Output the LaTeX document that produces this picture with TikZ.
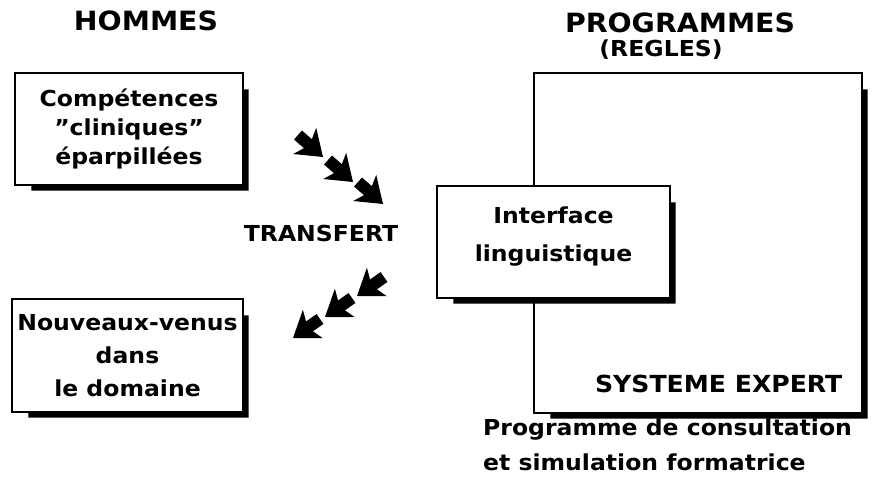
\documentclass[tikz,border=0pt]{standalone}
\usepackage{fontspec}
\setmainfont{DejaVu Sans}[FakeStretch=1.07]
\usetikzlibrary{arrows.meta, positioning}
\newcommand{\bodyfont}[1]{\fontsize{22}{#1}\selectfont\bfseries}

\begin{document}
\begin{tikzpicture}[
    x=1pt, y=-1pt,
    box/.style={rectangle, draw, line width=1.2pt, fill=white, align=center, inner sep=0pt, font=\bodyfont{29}},
    title/.style={inner sep=0pt, font=\fontsize{26.5}{30}\selectfont\bfseries},
    label/.style={inner sep=0pt, align=left, font=\bodyfont{35}},
    fat/.style={line width=12pt, -{Stealth[length=24pt, width=34pt, inset=6pt]}}
]
    \useasboundingbox (0,0) rectangle (875,491);

    \node[title] (hommes) at (146,21) {HOMMES};
    \node[title] (prog) at (680,23) {PROGRAMMES};
    \node[title, font=\fontsize{22}{26}\selectfont\bfseries, below=6pt of prog, xshift=-19pt] (regles) {(REGLES)};

    \node[box, minimum width=228pt, minimum height=112pt] (comp) at (129,129) {Compétences\\''cliniques''\\éparpillées};
    \node[box, minimum width=231pt, minimum height=113pt, font=\bodyfont{33}] (nouv) at (127.5,355.5) {Nouveaux-venus\\dans\\le domaine};
    \node[box, minimum width=328pt, minimum height=340pt] (sys) at (698,243) {};
    \node[box, minimum width=233pt, minimum height=112pt, font=\bodyfont{38}, text depth=16pt] (intf) at (553.5,242) {Interface\\linguistique};
    \node[label, anchor=south east, font=\fontsize{23.5}{28}\selectfont\bfseries] (syslbl) at ([shift={(-20pt,21pt)}]sys.south east) {SYSTEME EXPERT};
    \node[label, anchor=north west] (caption) at (483,419) {Programme de consultation\\et simulation formatrice};
    \node[label] (transfert) at (321,233) {TRANSFERT};

    % ombres portees
    \foreach \n in {comp, nouv, sys, intf}
        \fill ([yshift=-17pt]\n.north east) rectangle ([shift={(5pt,-5pt)}]\n.south east)
              ([xshift=17pt]\n.south west) rectangle ([shift={(5pt,-5pt)}]\n.south east);

    % fleches du transfert
    \coordinate (in1) at (323,157);
    \coordinate (in2) at (353,182);
    \coordinate (in3) at (383,204);
    \coordinate (out1) at (357,296);
    \coordinate (out2) at (325,317);
    \coordinate (out3) at (293,338);
    \foreach \c in {in1, in2, in3}
        \draw[fat] ([shift={(-25,-22)}]\c) -- (\c);
    \foreach \c in {out1, out2, out3}
        \draw[fat] ([shift={(27,-19)}]\c) -- (\c);

\end{tikzpicture}
\end{document}
